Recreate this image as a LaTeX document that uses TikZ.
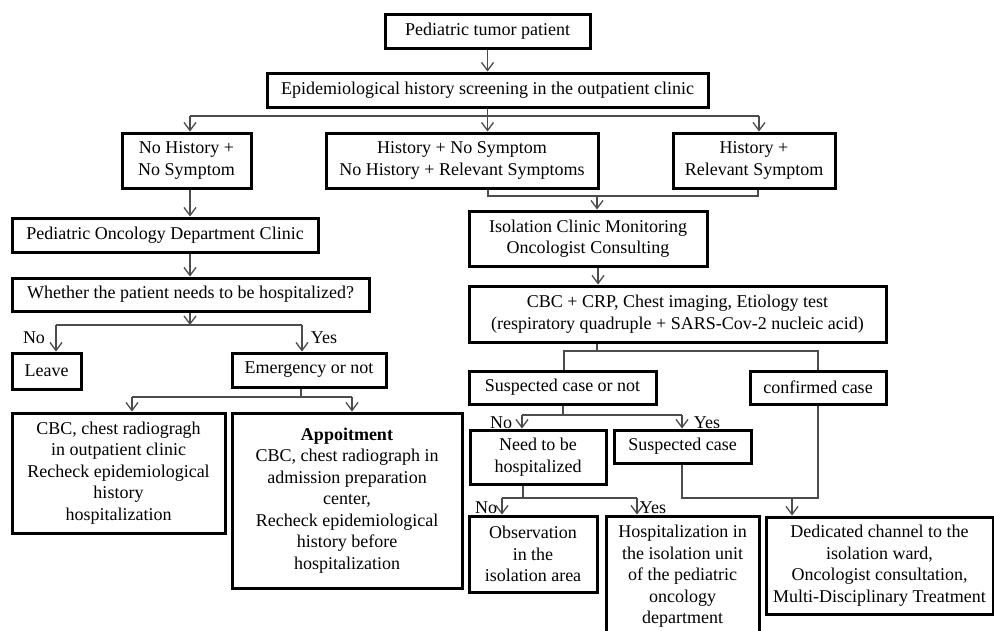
\documentclass[tikz,border=0pt]{standalone}
\usepackage{fontspec}
\setmainfont{Liberation Serif}
\usetikzlibrary{arrows.meta}
\begin{document}
\begin{tikzpicture}[x=1pt,y=-1pt,
  box/.style={draw=black, line width=3pt, inner sep=0pt, align=center, font=\fontsize{18}{21.5}\selectfont},
  conn/.style={draw=black!70, line width=1.3pt},
  arr/.style={conn, -{Straight Barb[length=8pt,width=12pt,line width=1.3pt]}},
  lbl/.style={font=\fontsize{18}{21.5}\selectfont, inner sep=0pt, anchor=base}]
\useasboundingbox (0,0) rectangle (994,630);
\clip (0,0) rectangle (994,630);

% ---------- boxes ----------
\node[box, minimum width=205pt, minimum height=34pt] (patient) at (487.5,31) {Pediatric tumor patient};
\node[box, minimum width=441pt, minimum height=34pt] (epi) at (487.5,90) {Epidemiological history screening in the outpatient clinic};
\node[box, minimum width=129pt, minimum height=55pt] (nohist) at (186.5,160.5) {No History +\\No Symptom};
\node[box, minimum width=272pt, minimum height=55pt] (mid) at (462,160.5) {History + No Symptom\\No History + Relevant Symptoms};
\node[box, minimum width=162pt, minimum height=55pt] (right) at (754,160.5) {History +\\Relevant Symptom};
\node[box, minimum width=238pt, minimum height=55pt] (iso) at (588,238.5) {Isolation Clinic Monitoring\\Oncologist Consulting};
\node[box, minimum width=417pt, minimum height=56pt] (cbc) at (677.5,314) {CBC + CRP, Chest imaging, Etiology test\\(respiratory quadruple + SARS-Cov-2 nucleic acid)};
\node[box, minimum width=187pt, minimum height=33pt] (suspq) at (562.5,387.5) {Suspected case or not};
\node[box, minimum width=136pt, minimum height=33pt] (confirmed) at (818,387.5) {confirmed case};
\node[box, minimum width=136pt, minimum height=54pt] (need) at (538,457) {Need to be\\hospitalized};
\node[box, minimum width=137pt, minimum height=33pt] (suspected) at (682.5,446.5) {Suspected case};
\node[box, minimum width=128pt, minimum height=76pt] (observ) at (533,554) {Observation\\in the\\isolation area};
\node[box, minimum width=153pt, minimum height=121pt] (hospital) at (682.5,576.5) {Hospitalization in\\the isolation unit\\of the pediatric\\oncology\\department};
\node[box, minimum width=227pt, minimum height=97pt] (dedicated) at (879.5,565.5) {Dedicated channel to the\\isolation ward,\\Oncologist consultation,\\Multi-Disciplinary Treatment};
\node[box, minimum width=306pt, minimum height=34pt] (pedonc) at (165,235) {Pediatric Oncology Department Clinic};
\node[box, minimum width=357pt, minimum height=33pt] (whether) at (190.5,294.5) {Whether the patient needs to be hospitalized?};
\node[box, minimum width=69pt, minimum height=36pt] (leave) at (46.5,371) {Leave};
\node[box, minimum width=154pt, minimum height=34pt] (emerg) at (309,370) {Emergency or not};
\node[box, minimum width=213pt, minimum height=120pt] (cbcleft) at (118.5,473) {CBC, chest radiogragh\\in outpatient clinic\\Recheck epidemiological\\history\\hospitalization};
\node[box, minimum width=230pt, minimum height=175pt] (appoint) at (347,500.5) {\textbf{Appoitment}\\CBC, chest radiograph in\\admission preparation\\center,\\Recheck epidemiological\\history before\\hospitalization};

% ---------- junction coordinates ----------
\coordinate (eL) at (190,116);
\coordinate (eR) at (759,116);
\coordinate (mA) at (488,196);
\coordinate (mB) at (758,196);
\coordinate (mC) at (597,196);
\coordinate (iX) at (598,276);
\coordinate (cb) at (597,351);
\coordinate (cbL) at (564,351);
\coordinate (cbR) at (818,351);
\coordinate (sq) at (563,415);
\coordinate (sqL) at (522,415);
\coordinate (sqR) at (682,415);
\coordinate (nd) at (523,498);
\coordinate (ndL) at (502,498);
\coordinate (ndR) at (637,498);
\coordinate (sm1) at (682,498);
\coordinate (sm2) at (818,498);
\coordinate (smA) at (792,498);
\coordinate (L) at (190,200);
\coordinate (wb) at (190,325);
\coordinate (wbL) at (56,325);
\coordinate (wbR) at (302,325);
\coordinate (eb) at (301,397);
\coordinate (ebL) at (132,397);
\coordinate (ebR) at (352,397);

% ---------- connectors ----------
\draw[arr] (patient) -- (epi);
\draw[conn] (eL) -- (eR);
\draw[arr] (epi.south) -- (epi.south |- mid.north);
\draw[arr] (eL) -- (eL |- nohist.north);
\draw[arr] (eR) -- (eR |- right.north);

\draw[conn] (mA |- mid.south) -- (mA) -- (mB) -- (mB |- right.south);
\draw[arr] (mC) -- (mC |- iso.north);
\draw[arr] (iX |- iso.south) -- (iX |- cbc.north);

\draw[conn] (cb |- cbc.south) -- (cb);
\draw[conn] (cbL |- suspq.north) -- (cbL) -- (cbR) -- (cbR |- confirmed.north);

\draw[conn] (sq |- suspq.south) -- (sq);
\draw[conn] (sqL) -- (sqR);
\draw[arr] (sqL) -- (sqL |- need.north);
\draw[arr] (sqR) -- (sqR |- suspected.north);

\draw[conn] (nd |- need.south) -- (nd);
\draw[conn] (ndL) -- (ndR);
\draw[arr] (ndL) -- (ndL |- observ.north);
\draw[arr] (ndR) -- (ndR |- hospital.north);

\draw[conn] (suspected.south -| sm1) -- (sm1) -- (sm2) -- (confirmed.south -| sm2);
\draw[arr] (smA) -- (smA |- dedicated.north);

\draw[arr] (L |- nohist.south) -- (L |- pedonc.north);
\draw[arr] (L |- pedonc.south) -- (L |- whether.north);
\draw[arr] (L |- whether.south) -- (wb);
\draw[conn] (wbL) -- (wbR);
\draw[arr] (wbL) -- (wbL |- leave.north);
\draw[arr] (wbR) -- (wbR |- emerg.north);

\draw[conn] (eb |- emerg.south) -- (eb);
\draw[conn] (ebL) -- (ebR);
\draw[arr] (ebL) -- (ebL |- cbcleft.north);
\draw[arr] (ebR) -- (ebR |- appoint.north);

% ---------- labels ----------
\node[lbl] (lNo1) at (34,343) {No};
\node[lbl] (lYes1) at (324,343) {Yes};
\node[lbl] (lNo2) at (501,428) {No};
\node[lbl] (lYes2) at (707,428) {Yes};
\node[lbl] (lNo3) at (486,513) {No};
\node[lbl] (lYes3) at (653,513) {Yes};
\end{tikzpicture}
\end{document}
